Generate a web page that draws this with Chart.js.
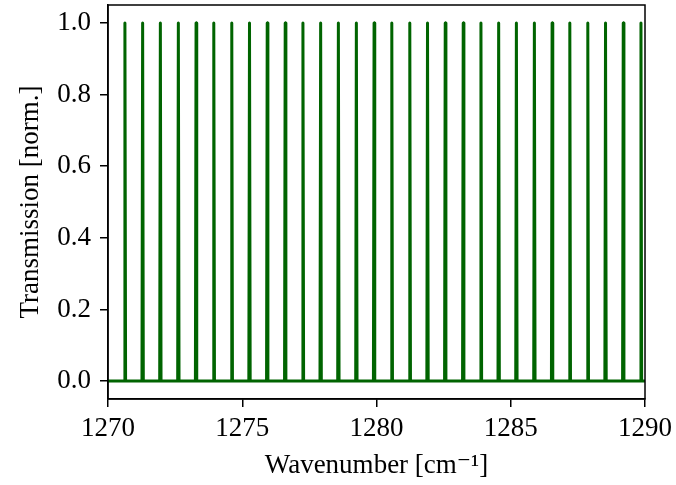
<!DOCTYPE html>
<html>
<head>
<meta charset="utf-8">
<script src="https://cdn.jsdelivr.net/npm/chart.js@4"></script>
<style>
  body { margin: 0; background: #fff; }
</style>
</head>
<body>
<canvas id="combChart" width="676" height="485"></canvas>
<script>
// peak positions (cm^-1)
const peakPositions = [
  1270.63, 1271.29, 1271.95, 1272.62, 1273.28, 1273.94, 1274.61, 1275.27,
  1275.93, 1276.60, 1277.26, 1277.92, 1278.58, 1279.25, 1279.91, 1280.57,
  1281.24, 1281.90, 1282.56, 1283.23, 1283.89, 1284.55, 1285.21, 1285.88,
  1286.54, 1287.20, 1287.87, 1288.53, 1289.19, 1289.85
];
const peakHeight = 1.0;
const peakHalfWidth = 0.025;
const xTicks = [1270, 1275, 1280, 1285, 1290];
const yTicks = [0.0, 0.2, 0.4, 0.6, 0.8, 1.0];

// build the line: flat baseline with narrow spikes
const points = [{ x: 1270, y: 0 }];
peakPositions.forEach(p => {
  points.push({ x: p - peakHalfWidth, y: 0 });
  points.push({ x: p, y: peakHeight });
  points.push({ x: p + peakHalfWidth, y: 0 });
});
points.push({ x: 1290, y: 0 });

const serif = "'Liberation Serif', 'DejaVu Serif', serif";

// box around the plot area (top and right spines too)
const frame = {
  id: 'frame',
  afterDraw(chart) {
    const a = chart.chartArea;
    const ctx = chart.ctx;
    ctx.save();
    ctx.strokeStyle = '#000';
    ctx.lineWidth = 1.5;
    ctx.strokeRect(a.left, a.top, a.right - a.left, a.bottom - a.top);
    ctx.restore();
  }
};

function noPad(s) {
  s.paddingTop = 0; s.paddingBottom = 0; s.paddingLeft = 0; s.paddingRight = 0;
}

new Chart(document.getElementById('combChart').getContext('2d'), {
  type: 'line',
  data: {
    datasets: [{
      data: points,
      borderColor: '#006400',
      borderWidth: 3,
      borderJoinStyle: 'round',
      borderCapStyle: 'butt',
      pointRadius: 0,
      tension: 0,
      fill: false
    }]
  },
  options: {
    responsive: false,
    devicePixelRatio: 1,
    animation: false,
    layout: { padding: { top: 5, right: 31, left: 0, bottom: 0 } },
    plugins: { legend: { display: false }, tooltip: { enabled: false } },
    scales: {
      x: {
        type: 'linear',
        min: 1270,
        max: 1290,
        afterBuildTicks: s => { s.ticks = xTicks.map(v => ({ value: v })); },
        afterFit: s => { s.height = 86; noPad(s); },
        grid: { drawOnChartArea: false, drawTicks: true, tickLength: 8, color: '#000', lineWidth: 1.5 },
        border: { display: true, color: '#000', width: 1.5 },
        ticks: { color: '#000', font: { family: serif, size: 27 }, padding: 6, maxRotation: 0, callback: v => String(v) },
        title: { display: true, text: 'Wavenumber [cm⁻¹]', color: '#000', font: { family: serif, size: 27 }, padding: { top: 0, bottom: 3 } }
      },
      y: {
        min: -0.05,
        max: 1.05,
        afterBuildTicks: s => { s.ticks = yTicks.map(v => ({ value: v })); },
        afterFit: s => { s.width = 108; noPad(s); },
        grid: { drawOnChartArea: false, drawTicks: true, tickLength: 8, color: '#000', lineWidth: 1.5 },
        border: { display: true, color: '#000', width: 1.5 },
        ticks: { color: '#000', font: { family: serif, size: 27 }, padding: 9, callback: v => v.toFixed(1) },
        title: { display: true, text: 'Transmission [norm.]', color: '#000', font: { family: serif, size: 27 }, padding: { top: 15, bottom: 0 } }
      }
    }
  },
  plugins: [frame]
});
</script>
</body>
</html>
